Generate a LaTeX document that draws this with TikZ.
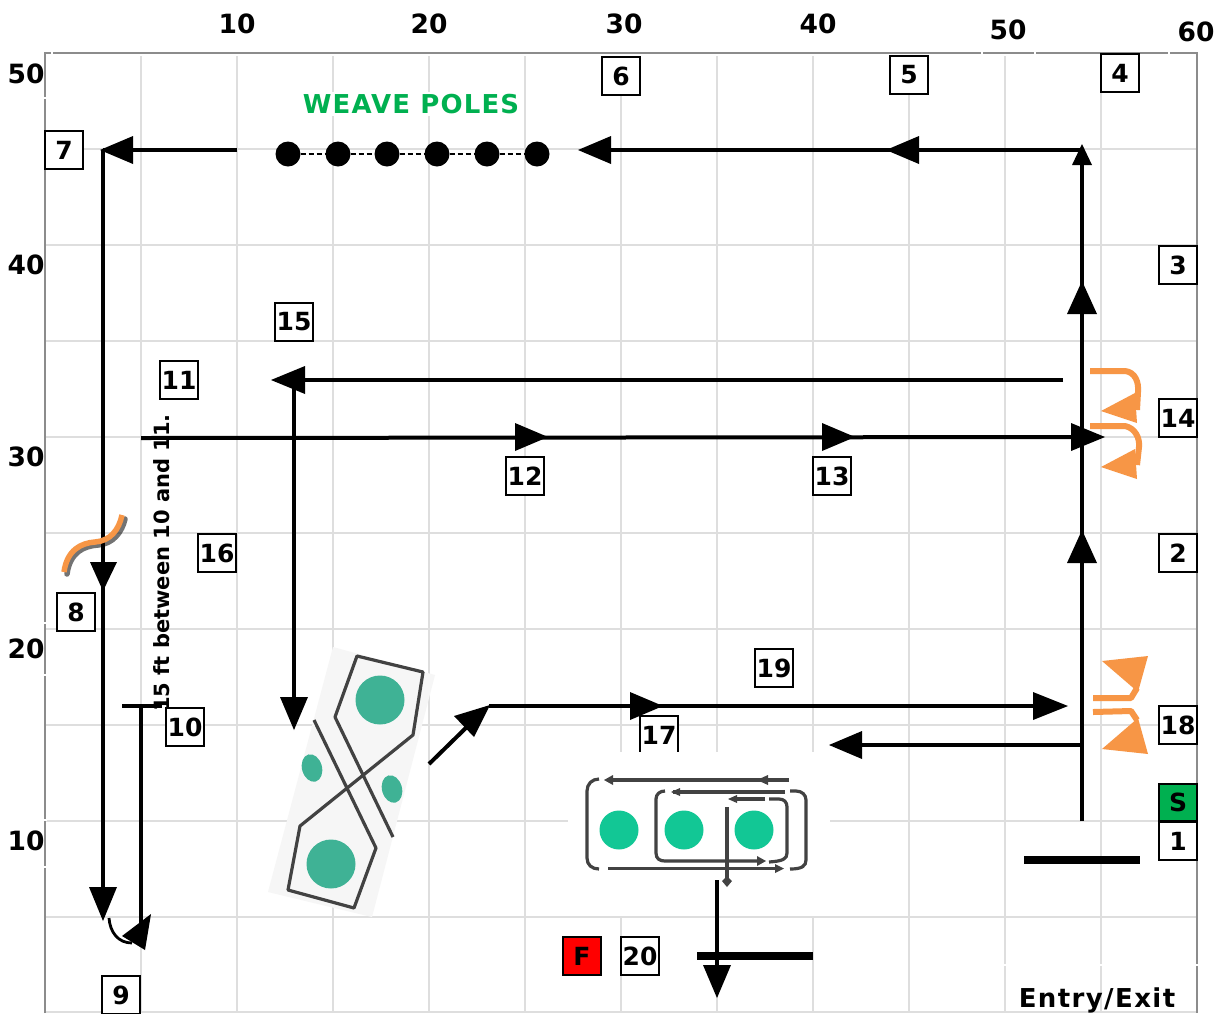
\documentclass[tikz,border=0pt]{standalone}
\usepackage{fontspec}
\setmainfont{DejaVu Sans}
\usetikzlibrary{arrows.meta}
\definecolor{gridc}{HTML}{DEDEDE}
\definecolor{framec}{HTML}{8C8C8C}
\definecolor{orangec}{HTML}{F79646}
\definecolor{tealc}{HTML}{3FB295}
\definecolor{greenc}{HTML}{12C795}
\definecolor{inkc}{HTML}{424242}
\definecolor{sgreen}{HTML}{00B050}
\tikzset{
 lab/.style={font=\bfseries\fontsize{26.5}{26.5}\selectfont,inner sep=0pt,text=black},
 num/.style={font=\bfseries\fontsize{25}{25}\selectfont,inner sep=0pt,text=black,draw=black,line width=1.8pt,fill=white,minimum width=37.5pt,minimum height=37.5pt},
 path/.style={line width=4pt,draw=black},
 bar/.style={line width=7.8pt,draw=black},
 orng/.style={line width=6pt,draw=orangec,line join=round},
 pole/.style={circle,fill=black,minimum width=25pt,inner sep=0pt,draw=none},
 ink/.style={line width=3.2pt,draw=inkc,line join=round},
 nick/.style={fill=white,draw=none},
}
\begin{document}
\begin{tikzpicture}[x=1pt,y=-1pt]
\useasboundingbox (0,0) rectangle (1215,1013);
\fill[white] (0,0) rectangle (1215,1013);
% grid
\foreach \x in {141,237,333,429,525,621,717,813,909,1005,1101}
  \draw[gridc,line width=1.5pt] (\x,56) -- (\x,1013);
\foreach \y in {149,245,341,437,533,629,725,821,917,1012}
  \draw[gridc,line width=1.5pt] (45,\y) -- (1197,\y);
\draw[framec,line width=2pt] (45,1013) -- (45,53) -- (1197,53) -- (1197,1013);
% small breaks in the frame
\foreach \x in {52,982,1035,1169} \fill[nick] (\x-1,51) rectangle (\x+1,55);
\foreach \y in {98,623,675,820,867} \fill[nick] (43,\y-1) rectangle (47,\y+1);
\fill[nick] (1000,964) rectangle (1199,966);
% axis labels
\foreach \t/\x/\y in {10/237/24,20/429/24,30/624/24,40/818/24,50/1008/30,60/1196/32}
  \node[lab] (xa\t) at (\x,\y) {\t};
\foreach \t/\y in {50/74,40/265,30/457,20/649,10/841}
  \node[lab] (ya\t) at (26,\y) {\t};
% weave poles
\node[font=\bfseries\fontsize{26}{26}\selectfont\addfontfeature{LetterSpace=4.5},text=sgreen,fill=white,inner sep=2pt] (wp) at (411,104) {WEAVE POLES};
\foreach \i/\x in {1/288,2/338,3/387,4/437,5/487,6/537}
  \node[pole] (p\i) at (\x,154) {};
\draw[line width=2.2pt,dash pattern=on 5pt off 3pt] (p1) -- (p2) (p2) -- (p3) (p3) -- (p4) (p4) -- (p5) (p5) -- (p6);
% vertical text
\node[inner sep=0pt,rotate=90,font=\bfseries\fontsize{21}{21}\selectfont,anchor=west] (dist) at (162,712) {15 ft between 10 and 11.};
% numbered boxes
\node[num] (n1) at (1178,841) {1};
\node[num,fill=sgreen] (nS) at (1178,802.5) {S};
\node[num] (n2) at (1178,553) {2};
\node[num] (n3) at (1178,265) {3};
\node[num] (n4) at (1120,73) {4};
\node[num] (n5) at (909,75) {5};
\node[num] (n6) at (621,76) {6};
\node[num] (n7) at (64,150) {7};
\node[num] (n8) at (76,612) {8};
\node[num] (n9) at (121,995) {9};
\node[num] (n10) at (185,727) {10};
\node[num] (n11) at (179,380) {11};
\node[num] (n12) at (525,476) {12};
\node[num] (n13) at (832,476) {13};
\node[num] (n14) at (1178,418) {14};
\node[num] (n15) at (294,322) {15};
\node[num] (n16) at (217,553) {16};
\node[num] (n17) at (659,735) {17};
\node[num] (n18) at (1178,725) {18};
\node[num] (n19) at (774,668) {19};
\node[num] (n20) at (640,956) {20};
\node[num,fill=red] (nF) at (582,956) {F};
% white picture ground of the serpentine
\fill[white] (568,752) rectangle (830,916);
% main path coordinates
\coordinate (a0) at (1082,821);
\coordinate (a1) at (1082,150);
\coordinate (b1) at (600,150);
\coordinate (c0) at (237,150);
\coordinate (c1) at (103,150);
\coordinate (d1) at (103,905);
\coordinate (e0) at (141,706);
\coordinate (e1) at (141,932);
\coordinate (f0) at (141,438);
\coordinate (f1) at (1090,437);
\coordinate (g0) at (1063,380);
\coordinate (g1) at (294,380);
\coordinate (h1) at (294,712);
\coordinate (i0) at (429,764);
\coordinate (i1) at (474,720);
\coordinate (j0) at (489,706);
\coordinate (j1) at (1050,706);
\coordinate (k0) at (1082,745);
\coordinate (k1) at (850,745);
\coordinate (l0) at (717,880);
\coordinate (l1) at (717,980);
\coordinate (m0) at (122,706);
\coordinate (m1) at (162,706);
\coordinate (q0) at (1024,860);
\coordinate (q1) at (1140,860);
\coordinate (r0) at (697,956);
\coordinate (r1) at (813,956);
\draw[path] (a0) -- (a1);
\draw[path] (a1) -- (b1);
\draw[path] (c0) -- (c1);
\draw[path] (c1) -- (d1);
\draw[path] (e0) -- (e1);
\draw[path] (f0) -- (f1);
\draw[path] (g0) -- (g1);
\draw[path] (g1) -- (h1);
\draw[path] (i0) -- (i1);
\draw[path] (j0) -- (j1);
\draw[path] (k0) -- (k1);
\draw[path] (l0) -- (l1);
\draw[line width=3.4pt] (m0) -- (m1);
\draw[bar] (q0) -- (q1);
\draw[bar] (r0) -- (r1);
% arrow heads
\fill (1082,144) -- (1092,165) -- (1072,165) -- cycle;
\fill (1082,281) -- (1097,314) -- (1067,314) -- cycle;
\fill (1082,530) -- (1097,563) -- (1067,563) -- cycle;
\fill (886,150) -- (919,136) -- (919,164) -- cycle;
\fill (578,150) -- (611,136) -- (611,164) -- cycle;
\fill (100,150) -- (133,136) -- (133,164) -- cycle;
\fill (103,591) -- (90,562) -- (117,562) -- cycle;
\fill (103,921) -- (89,887) -- (117,887) -- cycle;
\fill (548,437) -- (515,423) -- (515,451) -- cycle;
\fill (855,437) -- (822,423) -- (822,451) -- cycle;
\fill (1105,437) -- (1071,423) -- (1071,451) -- cycle;
\fill (271,380) -- (305,366) -- (305,394) -- cycle;
\fill (294,730) -- (280,697) -- (308,697) -- cycle;
\fill (1068,706) -- (1033,692) -- (1033,720) -- cycle;
\fill (663,706) -- (630,692) -- (630,720) -- cycle;
\fill (490,705) -- (454,716) -- (474,737) -- cycle;
\fill (829,745) -- (862,731) -- (862,759) -- cycle;
\fill (717,998) -- (703,965) -- (731,965) -- cycle;
% turn at 9
\draw[line width=2.8pt] (109,918) .. controls (110,932) and (118,943) .. (132,943);
\fill (151,914) -- (122,936) -- (145,950) -- cycle;
% orange: 8
\begin{scope}
\draw[line width=5.5pt,draw=black,opacity=.55,line cap=round] (67,574) .. controls (70,552) and (84,546) .. (98,545) .. controls (113,544) and (122,532) .. (125,519);
\draw[line width=5.5pt,draw=orangec] (64,572) .. controls (67,550) and (81,543) .. (95,542) .. controls (110,541) and (119,530) .. (122,515);
\end{scope}
% orange: 14
\draw[orng] (1090,371) -- (1125,371) .. controls (1135,372) and (1139,382) .. (1138,392) -- (1137,410);
\fill[orangec] (1101,411) -- (1135,393) -- (1137,423) -- cycle;
\draw[orng] (1090,426) -- (1125,426) .. controls (1135,428) and (1140,438) .. (1139,447) -- (1137,465);
\fill[orangec] (1101,467) -- (1135,449) -- (1137,479) -- cycle;
% orange: 18
\draw[orng] (1093,698) -- (1131,698) -- (1137,688);
\fill[orangec] (1102,661) -- (1148,656) -- (1138,692) -- cycle;
\draw[orng] (1093,712) -- (1131,711) -- (1137,720);
\fill[orangec] (1102,749) -- (1148,754) -- (1138,718) -- cycle;
% figure-eight picture
\fill[black!3.5] (333,647) -- (435,675) -- (372,917) -- (268,892) -- cycle;
\draw[ink] (314,720) -- (376,848) -- (354,908) -- (288,890) -- (300,826) -- (413,735) -- (423,672) -- (357,656) -- (335,717) -- (393,837);
\fill[tealc] (380,700) circle[radius=24.5pt];
\fill[tealc] (331,864) circle[radius=24.5pt];
\fill[tealc,rotate around={15:(312,768)}] (312,768) ellipse[x radius=10pt,y radius=14pt];
\fill[tealc,rotate around={15:(392,789)}] (392,789) ellipse[x radius=10pt,y radius=14pt];
% serpentine picture
\fill[greenc] (619,830) circle[radius=19.5pt];
\fill[greenc] (684,830) circle[radius=19.5pt];
\fill[greenc] (754,830) circle[radius=19.5pt];
\draw[ink] (599,779) .. controls (592,779) and (587,784) .. (587,791) -- (587,858) .. controls (587,865) and (592,869) .. (599,869);
\draw[ink] (789,780) -- (607,780);
\fill[inkc] (604,780) -- (613,775) -- (613,785) -- cycle;
\fill[inkc] (757,780) -- (768,775) -- (768,785) -- cycle;
\draw[ink] (665,791) .. controls (660,791) and (656,794) .. (656,799) -- (656,853) .. controls (656,859) and (660,861) .. (665,861) -- (762,861);
\fill[inkc] (766,861) -- (757,856) -- (757,866) -- cycle;
\draw[ink] (785,792) -- (673,792);
\fill[inkc] (671,792) -- (680,788) -- (680,796) -- cycle;
\draw[ink] (765,799) -- (732,799);
\fill[inkc] (728,799) -- (737,795) -- (737,803) -- cycle;
\draw[ink] (769,799) -- (779,799) .. controls (784,799) and (787,802) .. (787,807) -- (787,853) .. controls (787,859) and (783,861) .. (769,862);
\draw[ink] (790,791) -- (796,791) .. controls (802,791) and (806,795) .. (806,800) -- (806,860) .. controls (806,866) and (802,869) .. (790,869);
\draw[ink] (608,868.5) -- (780,868.5);
\fill[inkc] (784,868.5) -- (775,864) -- (775,873) -- cycle;
\draw[ink] (727,807) -- (727,880);
\fill[inkc] (727,887) -- (722,881) -- (727,876) -- (732,881) -- cycle;
% entry
\node[inner sep=0pt,anchor=base,font=\bfseries\fontsize{26}{26}\selectfont\addfontfeature{LetterSpace=5.4}] (ee) at (1097,1007) {Entry/Exit};
\end{tikzpicture}
\end{document}
